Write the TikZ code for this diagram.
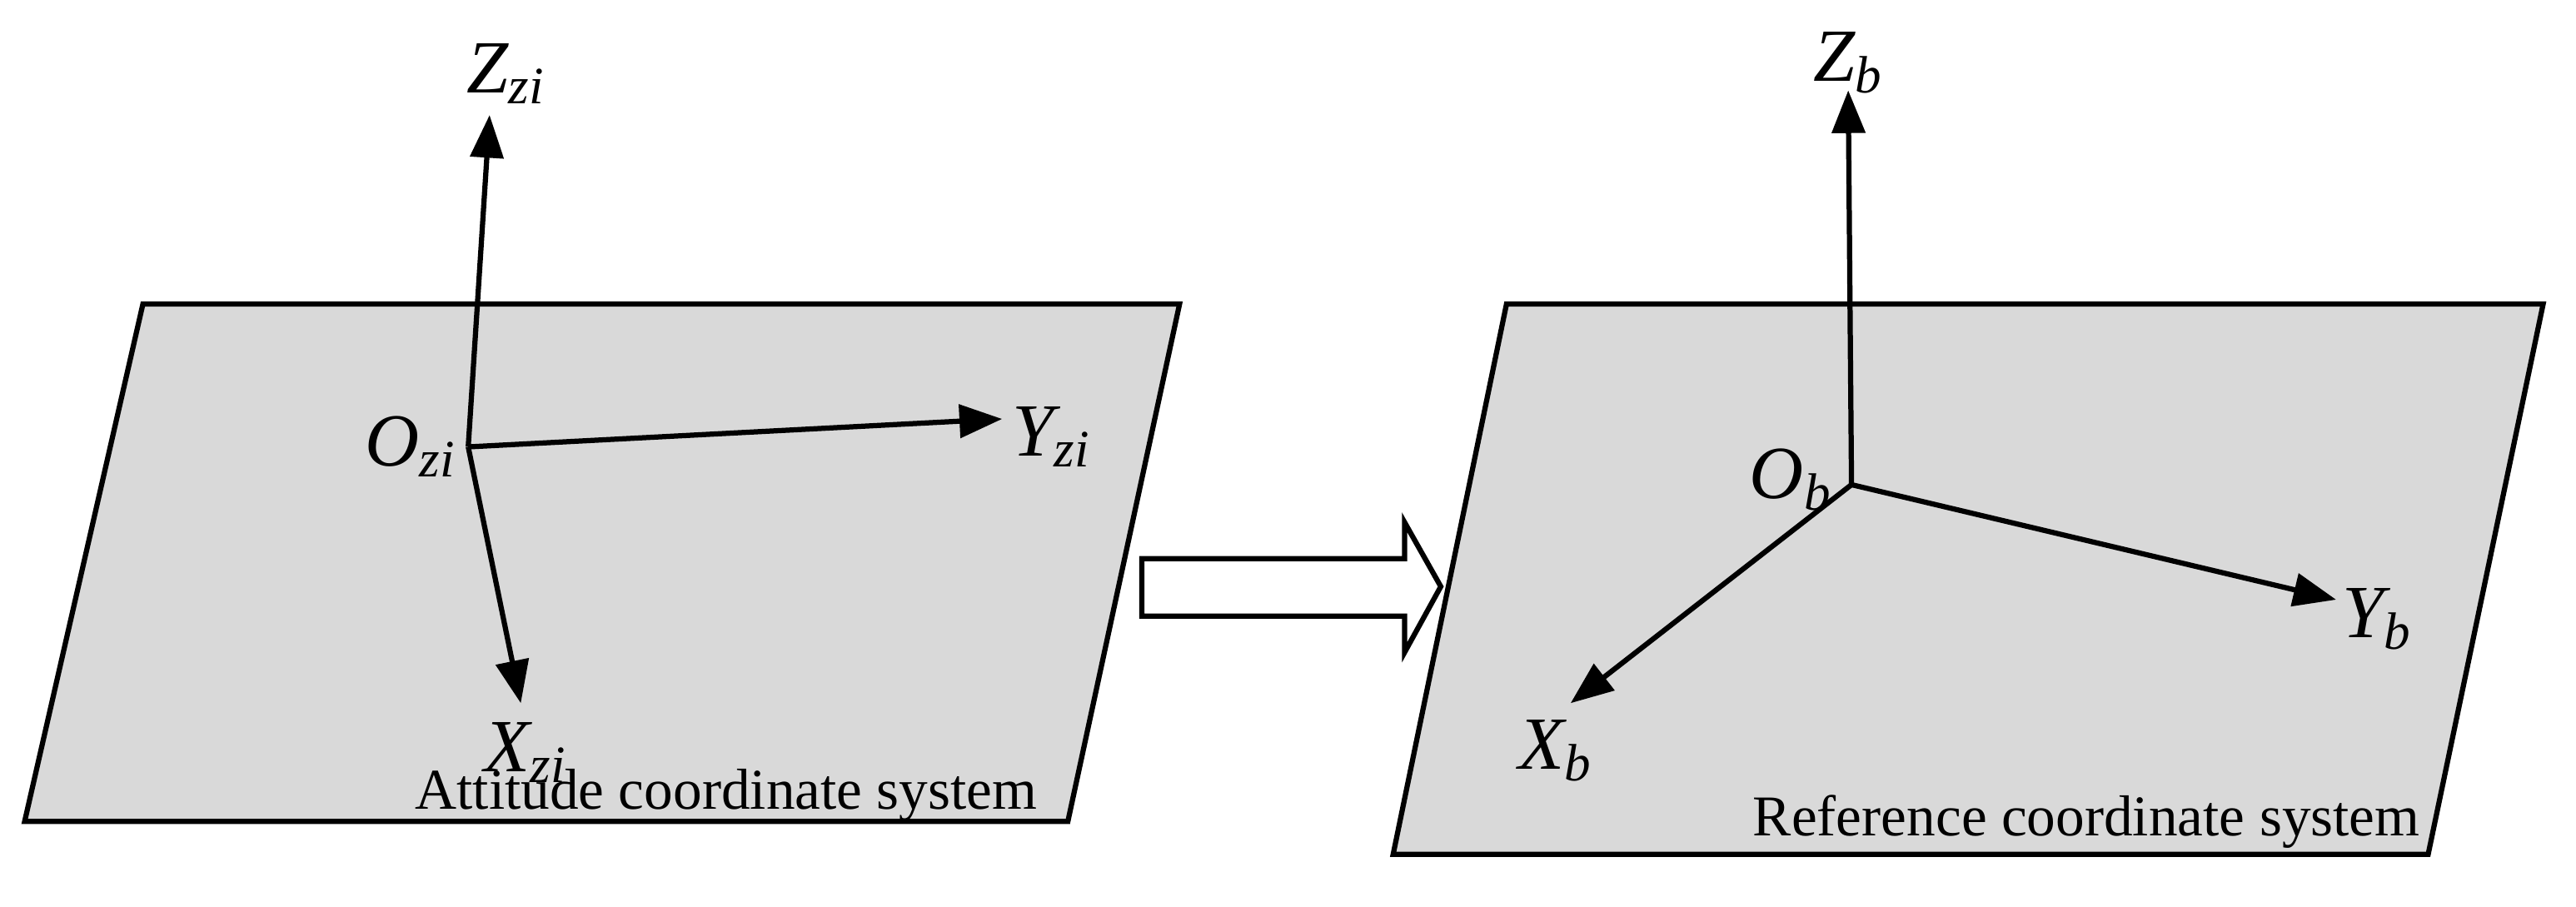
\documentclass[tikz,border=0pt]{standalone}
\usepackage{fontspec}
\setmainfont{Liberation Serif}
\usetikzlibrary{arrows.meta}
\begin{document}
\begin{tikzpicture}[x=0.02cm,y=-0.02cm,
  plane/.style={draw=black,fill=black!15,line width=1.8pt,line join=miter},
  ax/.style={line width=1.8pt,-{Triangle[length=0.52cm,width=0.4cm]}},
  lab/.style={font=\fontsize{26}{30}\selectfont\itshape,inner sep=0pt},
  captxt/.style={font=\fontsize{20}{24}\selectfont,inner sep=0pt}]
\useasboundingbox (0,0) rectangle (1568,552);
% left plane
\draw[plane] (87,185) -- (718,185) -- (650,500) -- (15,500) -- cycle;
\coordinate (o1) at (285,272);
\coordinate (z1) at (298,70);
\coordinate (y1) at (610,255);
\coordinate (x1) at (317,428);
\draw[ax] (o1) -- (z1);
\draw[ax] (o1) -- (y1);
\draw[ax] (o1) -- (x1);
\node[lab] (lz1) at (308,45) {Z\textsubscript{zi}};
\node[lab] (lo1) at (250,272) {O\textsubscript{zi}};
\node[lab] (ly1) at (640,266) {Y\textsubscript{zi}};
\node[lab] (lx1) at (320,458) {X\textsubscript{zi}};
\node[captxt] (c1) at (442,484) {Attitude coordinate system};
% hollow arrow
\draw[line width=1.8pt,fill=white,line join=miter] (695,340) -- (855,340) -- (855,318) -- (877,357) -- (855,397) -- (855,375) -- (695,375) -- cycle;
% right plane
\draw[plane] (917,185) -- (1548,185) -- (1478,520) -- (848,520) -- cycle;
\coordinate (o2) at (1127,295);
\coordinate (z2) at (1125,55);
\coordinate (y2) at (1422,365);
\coordinate (x2) at (956,428);
\draw[ax] (o2) -- (z2);
\draw[ax] (o2) -- (y2);
\draw[ax] (o2) -- (x2);
\node[lab] (lz2) at (1125,38) {Z\textsubscript{b}};
\node[lab] (lo2) at (1090,292) {O\textsubscript{b}};
\node[lab] (ly2) at (1447,377) {Y\textsubscript{b}};
\node[lab] (lx2) at (947,457) {X\textsubscript{b}};
\node[captxt] (c2) at (1270,500) {Reference coordinate system};
\end{tikzpicture}
\end{document}
